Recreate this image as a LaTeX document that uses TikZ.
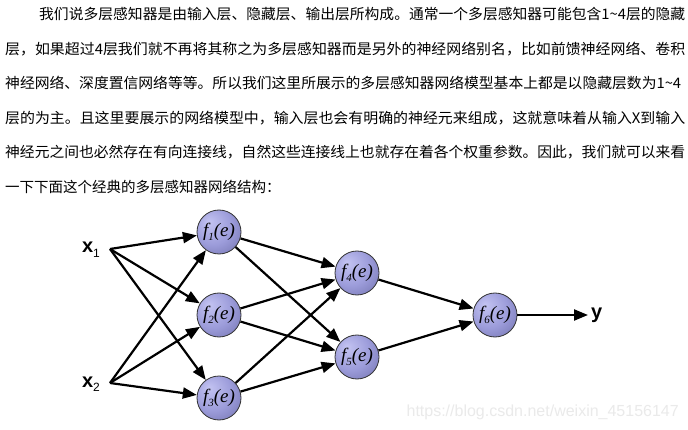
\documentclass[tikz,border=0pt]{standalone}
\usepackage{fontspec}
\usepackage{graphicx}
\setmainfont{Liberation Serif}
\newfontfamily\cjk{Noto Sans CJK SC}
\newfontfamily\arial{Liberation Sans}
\newfontfamily\tnr{Liberation Serif}
\usetikzlibrary{arrows.meta}
\definecolor{lavlight}{HTML}{C4C4F2}
\definecolor{lavmid}{HTML}{9C9CDA}
\definecolor{lavdark}{HTML}{62629E}
\definecolor{wmgray}{HTML}{EAEAEA}
\pgfdeclareradialshading{lavball}{\pgfpoint{-12bp}{12bp}}{color(0bp)=(lavlight); color(22bp)=(lavmid); color(48bp)=(lavdark); color(60bp)=(lavdark)}
\tikzset{
  txt/.style={anchor=west, inner sep=0pt, font=\cjk\fontsize{14.5}{14.5}\selectfont},
  neuron/.style={circle, minimum size=44pt, inner sep=0pt, draw=black!80, line width=0.8pt, shading=lavball, font=\tnr\itshape\fontsize{19}{19}\selectfont},
  arr/.style={-{Triangle[length=14pt,width=11pt]}, line width=2.2pt},
  xlab/.style={anchor=base east, inner sep=0pt, font=\arial\bfseries\fontsize{20}{20}\selectfont},
}
\newcommand\fsub[1]{\raisebox{-0.4ex}{\fontsize{11}{11}\selectfont #1}}
\newcommand\xsub[1]{\raisebox{-0.45ex}{\mdseries\fontsize{12}{12}\selectfont #1}}
\begin{document}
\begin{tikzpicture}[x=1pt,y=-1pt]
\fill[white] (0,0) rectangle (688,430);
\useasboundingbox (0,0) rectangle (688,430);
% text
\node[txt] (t1) at (39,14) {\resizebox{646pt}{\height}{我们说多层感知器是由输入层、隐藏层、输出层所构成。通常一个多层感知器可能包含1\textasciitilde4层的隐藏}};
\node[txt] (t2) at (5,48.6) {\resizebox{680pt}{\height}{层，如果超过4层我们就不再将其称之为多层感知器而是另外的神经网络别名，比如前馈神经网络、卷积}};
\node[txt] (t3) at (5,83.2) {\resizebox{676pt}{\height}{神经网络、深度置信网络等等。所以我们这里所展示的多层感知器网络模型基本上都是以隐藏层数为1\textasciitilde4}};
\node[txt] (t4) at (5,117.8) {\resizebox{680pt}{\height}{层的为主。且这里要展示的网络模型中，输入层也会有明确的神经元来组成，这就意味着从输入X到输入}};
\node[txt] (t5) at (5,152.4) {\resizebox{680pt}{\height}{神经元之间也必然存在有向连接线，自然这些连接线上也就存在着各个权重参数。因此，我们就可以来看}};
\node[txt] (t6) at (5,187) {一下下面这个经典的多层感知器网络结构：};
% network
\node[neuron] (f1) at (219,232) {f\fsub{1}(e)};
\node[neuron] (f2) at (219,315) {f\fsub{2}(e)};
\node[neuron] (f3) at (219,398) {f\fsub{3}(e)};
\node[neuron] (f4) at (357,273) {f\fsub{4}(e)};
\node[neuron] (f5) at (357,357) {f\fsub{5}(e)};
\node[neuron] (f6) at (495,315) {f\fsub{6}(e)};
\coordinate (x1) at (110,249);
\coordinate (x2) at (110,383);
\coordinate (yend) at (588,315);
\node[xlab] (lx1) at (100,253) {x\xsub{1}};
\node[xlab] (lx2) at (100,387) {x\xsub{2}};
\node[anchor=base west, inner sep=0pt, font=\arial\bfseries\fontsize{20}{20}\selectfont] (ly) at (591,319) {y};
\foreach \s in {x1,x2}{
  \foreach \t in {f1,f2,f3}{
    \draw[arr] (\s) -- (\t);
  }
}
\foreach \s in {f1,f2,f3}{
  \foreach \t in {f4,f5}{
    \draw[arr] (\s) -- (\t);
  }
}
\draw[arr] (f4) -- (f6);
\draw[arr] (f5) -- (f6);
\draw[arr] (f6) -- (yend);
\node[anchor=east, inner sep=0pt, text=wmgray, font=\arial\fontsize{16}{16}\selectfont] (wm) at (679,412) {https://blog.csdn.net/weixin\_45156147};
\end{tikzpicture}
\end{document}
